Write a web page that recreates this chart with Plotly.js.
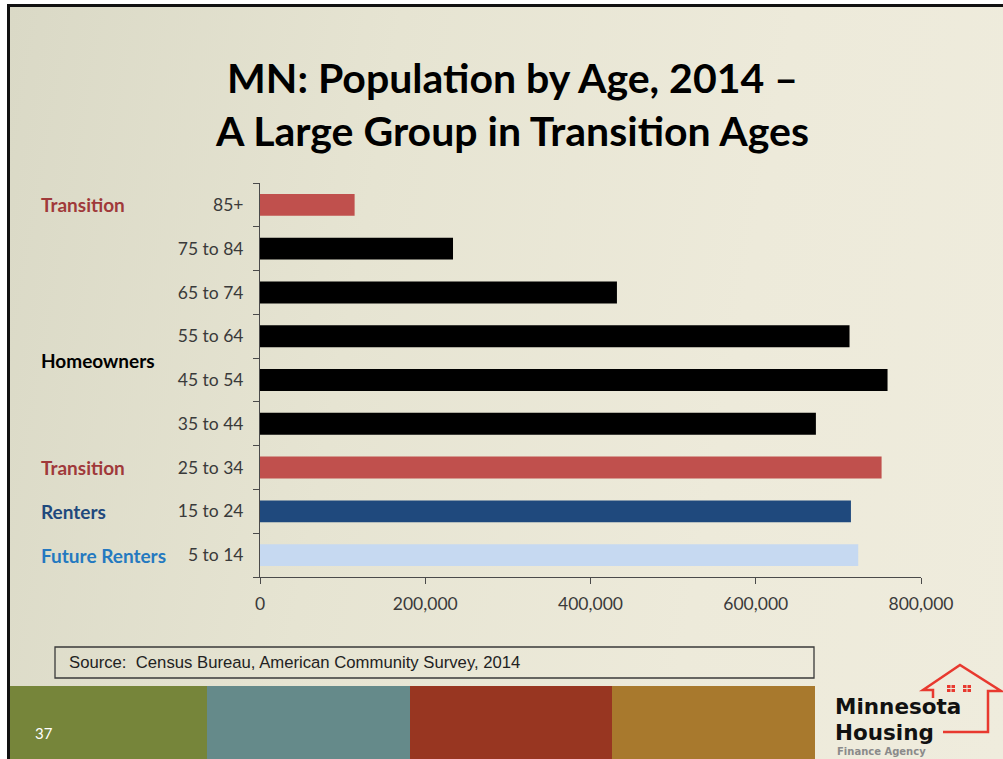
<!DOCTYPE html>
<html>
<head>
<meta charset="utf-8">
<script src="https://cdn.plot.ly/plotly-3.0.1.min.js"></script>
<style>
html,body{margin:0;padding:0;background:#ffffff;width:1003px;height:759px;overflow:hidden;}
#slide{position:absolute;left:7px;top:4px;width:996px;height:755px;box-sizing:border-box;
 border-top:3px solid #111;border-left:3px solid #111;
 background:linear-gradient(100deg,#dad9c6 0%,#e6e4d2 35%,#edeada 70%,#efecdd 100%);}
#chart{position:absolute;left:0;top:0;width:1003px;height:759px;}
</style>
</head>
<body>
<div id="slide"></div>
<div id="chart"></div>
<script>
// ---- data ----
const ageGroups = ["5 to 14","15 to 24","25 to 34","35 to 44","45 to 54","55 to 64","65 to 74","75 to 84","85+"];
const population = [724000, 715200, 752300, 672800, 759500, 713500, 432000, 233600, 114500];
const barColors = ["#c6d9f1","#1f497d","#c0504d","#000000","#000000","#000000","#000000","#000000","#c0504d"];
const xTickVals = [0, 200000, 400000, 600000, 800000];
const xTickText = ["0","200,000","400,000","600,000","800,000"];
const groupLabels = ["Future Renters","Renters","Transition","Homeowners","Transition"];
const groupAnchors = [0, 1, 2, 4.45, 8];
const groupColors = ["#2479c0","#1f497d","#a0393a","#000000","#a0393a"];
const titleLines = ["MN: Population by Age, 2014 \u2013","A Large Group in Transition Ages"];
const sourceNote = "Source:  Census Bureau, American Community Survey, 2014";
const slideNumber = "37";
const bandColors = ["#76853a","#658a8a","#983621","#a8792d"];
const logoLines = ["Minnesota","Housing","Finance Agency"];

// ---- pixel helpers for slide decorations (plot area: x 260..921, y 183..577) ----
const L = 260, R = 921, T = 183, B = 577;
const W = R - L, H = B - T;
const X = px => (px - L) / W;
const Y = py => (B - py) / H;

const shapes = [];
const bandEdges = [10, 207, 410, 612, 815];
bandColors.forEach((c, i) => {
  shapes.push({type:'rect', xref:'paper', yref:'paper', layer:'below',
    x0:X(bandEdges[i]), x1:X(bandEdges[i+1]), y0:Y(759), y1:Y(686),
    fillcolor:c, line:{width:0}});
});
// source box
shapes.push({type:'rect', xref:'paper', yref:'paper', x0:X(55), x1:X(814), y0:Y(678), y1:Y(647),
  fillcolor:'rgba(0,0,0,0)', line:{color:'#3a3a3a', width:1.3}});
// house outline
const pts = [[943,732],[988,732],[988,691],[1001,691],[960,665],[923,690],[933,690],[933,698]];
shapes.push({type:'path', xref:'paper', yref:'paper',
  path: 'M ' + pts.map(p => X(p[0]) + ',' + Y(p[1])).join(' L '),
  line:{color:'#e8392f', width:2.5}});
// windows
[[947,955],[963,971]].forEach(w => {
  shapes.push({type:'rect', xref:'paper', yref:'paper', x0:X(w[0]), x1:X(w[1]), y0:Y(692), y1:Y(685),
    fillcolor:'#e8392f', line:{width:0}});
  shapes.push({type:'line', xref:'paper', yref:'paper', x0:X((w[0]+w[1])/2), x1:X((w[0]+w[1])/2), y0:Y(692), y1:Y(685),
    line:{color:'#ecead9', width:1}});
  shapes.push({type:'line', xref:'paper', yref:'paper', x0:X(w[0]), x1:X(w[1]), y0:Y(688.5), y1:Y(688.5),
    line:{color:'#ecead9', width:1}});
});

const annotations = [];
groupLabels.forEach((t, i) => {
  annotations.push({text:t, xref:'paper', x:X(39), xanchor:'left', yref:'y', y:groupAnchors[i], yanchor:'middle',
    showarrow:false, font:{family:'Lato', size:19, weight:'bold', color:groupColors[i]}});
});
annotations.push({text:sourceNote, xref:'paper', yref:'paper', x:X(67), xanchor:'left', y:Y(662), yanchor:'middle',
  showarrow:false, font:{family:'Liberation Sans', size:16.7, color:'#222222'}});
annotations.push({text:slideNumber, xref:'paper', yref:'paper', x:X(33), xanchor:'left', y:Y(733), yanchor:'middle',
  showarrow:false, font:{family:'Lato', size:15, color:'#ffffff'}});
annotations.push({text:logoLines[0], xref:'paper', yref:'paper', x:X(833), xanchor:'left', y:Y(706.5), yanchor:'middle',
  showarrow:false, font:{family:'DejaVu Sans', size:21.5, weight:'bold', color:'#111111'}});
annotations.push({text:logoLines[1], xref:'paper', yref:'paper', x:X(833), xanchor:'left', y:Y(732), yanchor:'middle',
  showarrow:false, font:{family:'DejaVu Sans', size:21.5, weight:'bold', color:'#111111'}});
annotations.push({text:logoLines[2], xref:'paper', yref:'paper', x:X(835), xanchor:'left', y:Y(751), yanchor:'middle',
  showarrow:false, font:{family:'DejaVu Sans', size:10, weight:'bold', color:'#8a8a8a'}});

const trace = {
  type:'bar', orientation:'h',
  y: ageGroups, x: population,
  marker:{color: barColors, line:{width:0}},
  width: 0.5,
  hoverinfo:'x+y'
};

const tickFont = {family:'Lato', size:17.5, color:'#3a3a3a'};
const layout = {
  width:1003, height:759,
  margin:{l:L, r:1003-R, t:T, b:759-B, pad:0},
  paper_bgcolor:'rgba(0,0,0,0)', plot_bgcolor:'rgba(0,0,0,0)',
  showlegend:false,
  title:{text: titleLines.join('<br>'), x:0.511, xanchor:'center', y:1-93/759, yanchor:'middle',
    font:{family:'Lato', size:41, weight:'bold', color:'#000000'}},
  xaxis:{range:[0,800000], tickvals:xTickVals, ticktext:xTickText, ticks:'outside', ticklen:6,
    tickcolor:'#4a4a4a', showline:true, linecolor:'#4a4a4a', linewidth:1, showgrid:false, zeroline:false,
    tickfont:tickFont, ticklabelstandoff:5, fixedrange:true},
  yaxis:{type:'category', categoryarray:ageGroups, categoryorder:'array', range:[-0.5,8.5],
    tickson:'boundaries', ticks:'outside', ticklen:6, tickcolor:'#4a4a4a', showline:true,
    linecolor:'#4a4a4a', linewidth:1, showgrid:false, zeroline:false, tickfont:tickFont,
    ticklabelstandoff:12, fixedrange:true},
  shapes: shapes,
  annotations: annotations
};

Plotly.newPlot('chart', [trace], layout, {displayModeBar:false, staticPlot:true});
</script>
</body>
</html>
